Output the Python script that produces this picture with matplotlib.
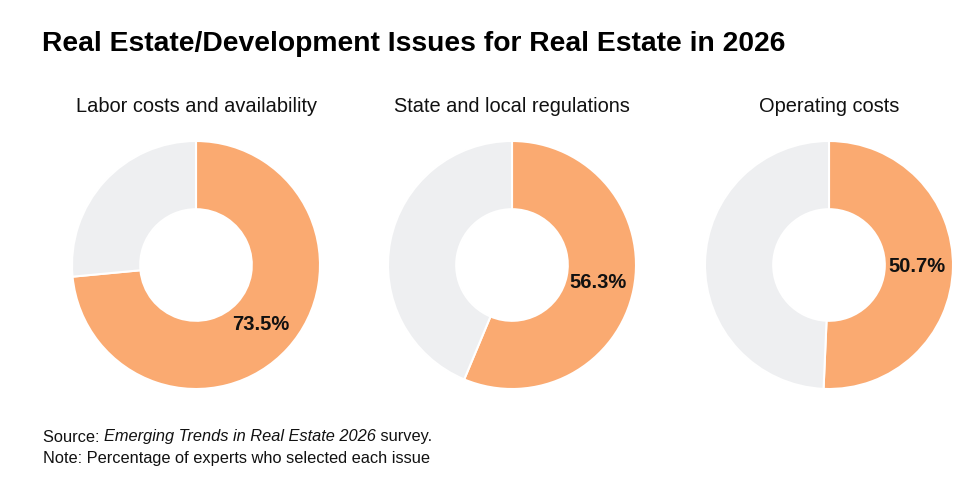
import math

import matplotlib.pyplot as plt

plt.rcParams["font.family"] = ["Liberation Sans", "DejaVu Sans"]

issues = ["Labor costs and availability", "State and local regulations", "Operating costs"]
shares = [73.5, 56.3, 50.7]
centers_px = [196, 512, 829]

ORANGE = "#FAAA71"
GREY = "#EEEFF1"
TXT = "#111111"

W, H = 969, 499
fig = plt.figure(figsize=(W / 100, H / 100), dpi=100)
fig.patch.set_facecolor("white")

R = 124
CY = 265
for name, pct, cx in zip(issues, shares, centers_px):
    ax = fig.add_axes([(cx - R) / W, (H - CY - R) / H, 2 * R / W, 2 * R / H])
    ax.pie(
        [pct, 100 - pct],
        colors=[ORANGE, GREY],
        startangle=90,
        counterclock=False,
        radius=1,
        wedgeprops=dict(width=0.55, edgecolor="white", linewidth=1.5),
    )
    ax.set_xlim(-1, 1)
    ax.set_ylim(-1, 1)
    ax.set_aspect("equal")
    ax.axis("off")
    # label sits in the ring, at the middle of the orange wedge
    ang = math.radians(90 - pct / 100 * 180)
    r = 0.71
    ax.text(r * math.cos(ang), r * math.sin(ang), f"{pct:.1f}%",
            ha="center", va="center", fontsize=14.5, fontweight="bold", color=TXT)
    fig.text(cx / W, 1 - 107 / H, name, ha="center", va="center", fontsize=14.4, color=TXT)

fig.text(42 / W, 1 - 44 / H, "Real Estate/Development Issues for Real Estate in 2026",
         ha="left", va="center", fontsize=20.3, fontweight="bold", color="#000000")

# source line: plain + italic + plain
FS = 11.8
renderer = fig.canvas.get_renderer()
t1 = fig.text(43 / W, 1 - 437 / H, "Source: ", ha="left", va="center", fontsize=FS, color=TXT)
bb = t1.get_window_extent(renderer)
t2 = fig.text(bb.x1 / W, 1 - 437 / H, "Emerging Trends in Real Estate 2026",
              ha="left", va="center", fontsize=FS, style="italic", color=TXT)
bb2 = t2.get_window_extent(renderer)
fig.text(bb2.x1 / W, 1 - 437 / H, " survey.", ha="left", va="center", fontsize=FS, color=TXT)
fig.text(43 / W, 1 - 458 / H, "Note: Percentage of experts who selected each issue",
         ha="left", va="center", fontsize=FS, color=TXT)

fig.savefig("out.png", dpi=100)
